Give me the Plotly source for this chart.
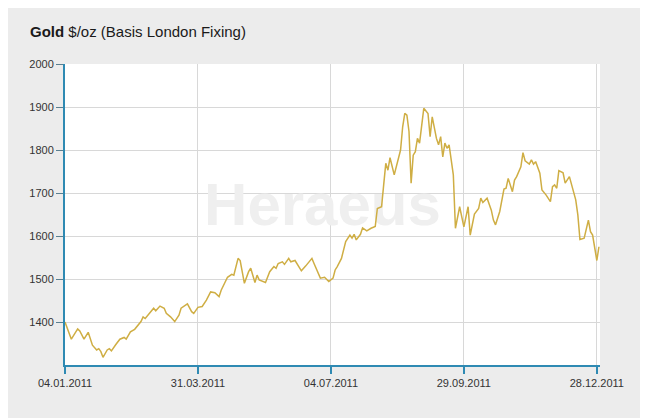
import plotly.graph_objects as go

# trading-day index (0 = 04.01.2011) and London fixing price
day = [0, 3, 6, 7, 9, 11, 13, 15, 16, 17, 18, 20, 21, 22, 24, 26, 28, 29, 31, 33,
       36, 37, 38, 40, 42, 43, 45, 47, 48, 50, 52, 54, 55, 58, 60, 61, 63, 65, 67, 69,
       71, 73, 74, 77, 79, 80, 82, 83, 85, 87, 88, 90, 91, 92, 95, 97, 99, 100, 101, 103,
       104, 106, 107, 109, 111, 112, 114, 117, 118, 121, 123, 125, 127, 128, 129, 131, 133, 135, 136, 137,
       138, 140, 141, 143, 145, 147, 148, 150, 151, 152, 153, 154, 156, 158, 159, 160, 161, 162, 163, 164,
       165, 166, 167, 168, 170, 172, 173, 174, 176, 177, 178, 179, 180, 181, 182, 184, 185, 187, 189, 191,
       192, 194, 196, 197, 198, 200, 202, 203, 204, 206, 208, 209, 210, 212, 213, 214, 216, 217, 218, 220,
       221, 222, 223, 225, 226, 228, 229, 230, 231, 232, 233, 234, 236, 237, 239, 242, 243, 244, 246, 248,
       249, 250, 252, 253]
price = [1400, 1360, 1384, 1379, 1360, 1376, 1346, 1335, 1338, 1331, 1318, 1335, 1338, 1333, 1347, 1360, 1364, 1360, 1377, 1383,
         1401, 1412, 1408, 1420, 1432, 1426, 1437, 1432, 1420, 1412, 1401, 1416, 1432, 1442, 1424, 1420, 1434, 1436, 1451, 1470,
         1468, 1459, 1474, 1504, 1511, 1509, 1548, 1543, 1490, 1517, 1525, 1492, 1509, 1498, 1492, 1517, 1529, 1525, 1536, 1540,
         1534, 1548, 1540, 1543, 1527, 1519, 1530, 1548, 1536, 1502, 1504, 1494, 1502, 1521, 1529, 1548, 1587, 1602, 1595, 1604,
         1591, 1604, 1619, 1612, 1618, 1622, 1664, 1668, 1719, 1769, 1753, 1782, 1742, 1784, 1800, 1854, 1885, 1881, 1843, 1723,
         1788, 1796, 1827, 1816, 1897, 1885, 1831, 1877, 1827, 1812, 1831, 1784, 1816, 1804, 1812, 1742, 1618, 1668, 1621, 1668,
         1602, 1651, 1664, 1688, 1678, 1688, 1660, 1637, 1626, 1657, 1709, 1711, 1734, 1703, 1730, 1738, 1761, 1794, 1775, 1767,
         1777, 1767, 1773, 1746, 1707, 1695, 1688, 1680, 1715, 1719, 1711, 1752, 1747, 1723, 1738, 1684, 1649, 1592, 1595, 1637,
         1610, 1602, 1543, 1575]

tick_pos = [0, 63, 126, 189, 252]
tick_text = ["04.01.2011", "31.03.2011", "04.07.2011", "29.09.2011", "28.12.2011"]
y_ticks = [1400, 1500, 1600, 1700, 1800, 1900, 2000]

FONT = "Liberation Sans, Arial, sans-serif"
AXIS = "#2f8ab3"

fig = go.Figure()

# watermark behind the line
fig.add_trace(go.Scatter(
    x=[122], y=[1660], mode="text", text=["<b>Heraeus</b>"],
    textfont=dict(family=FONT, size=60, color="#efefef"),
    hoverinfo="skip", showlegend=False))

fig.add_trace(go.Scatter(
    x=day, y=price, mode="lines",
    line=dict(color="#cfae44", width=1.5),
    hoverinfo="skip", showlegend=False))

fig.update_layout(
    width=640, height=410,
    margin=dict(l=57, r=48, t=56, b=53),
    paper_bgcolor="#ececec",
    plot_bgcolor="#ffffff",
    font=dict(family=FONT, size=11, color="#333333"),
    showlegend=False,
    annotations=[dict(
        xref="paper", yref="paper",
        x=-37 / 535, y=334 / 301,
        xanchor="left", yanchor="middle", showarrow=False,
        text="<b>Gold</b> $/oz (Basis London Fixing)",
        font=dict(family=FONT, size=15, color="#1a1a1a"))],
)

fig.update_xaxes(
    range=[0, 253.5], tickvals=tick_pos, ticktext=tick_text,
    showgrid=True, gridcolor="#d8d8d8", gridwidth=1,
    showline=True, linecolor=AXIS, linewidth=2,
    ticks="outside", ticklen=7, tickcolor=AXIS, tickwidth=1.5,
    zeroline=False, fixedrange=True)

fig.update_yaxes(
    range=[1300, 2000], tickvals=y_ticks,
    showgrid=True, gridcolor="#d8d8d8", gridwidth=1,
    showline=True, linecolor=AXIS, linewidth=2,
    ticks="outside", ticklen=7, tickcolor="#5a7f90", tickwidth=1,
    zeroline=False, fixedrange=True)

fig.write_html("out.html", config={"displayModeBar": False})
